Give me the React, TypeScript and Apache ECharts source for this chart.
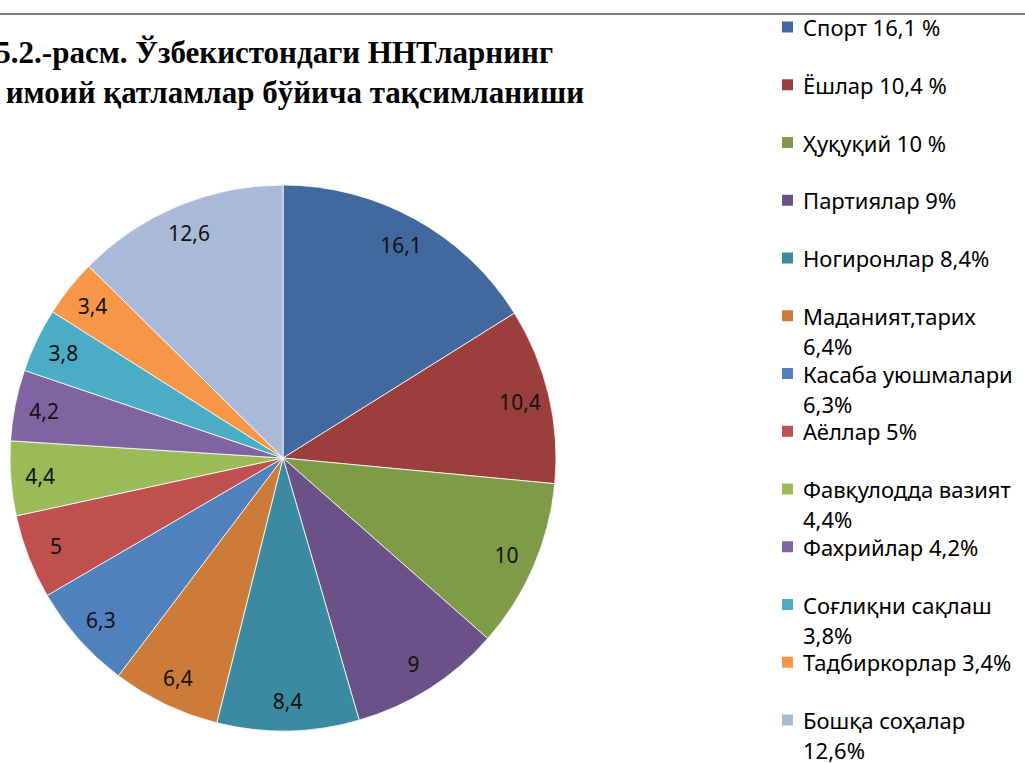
import React, { useEffect, useRef } from "react";
import * as echarts from "echarts";

const categories = [
  "Спорт", "Ёшлар", "Ҳуқуқий", "Партиялар", "Ногиронлар", "Маданият,тарих",
  "Касаба уюшмалари", "Аёллар", "Фавқулодда вазият", "Фахрийлар",
  "Соғлиқни сақлаш", "Тадбиркорлар", "Бошқа соҳалар",
];
const values = [16.1, 10.4, 10, 9, 8.4, 6.4, 6.3, 5, 4.4, 4.2, 3.8, 3.4, 12.6];
const legendLines: string[][] = [
  ["Спорт 16,1 %"], ["Ёшлар 10,4 %"], ["Ҳуқуқий 10 %"], ["Партиялар 9%"],
  ["Ногиронлар 8,4%"], ["Маданият,тарих", "6,4%"], ["Касаба уюшмалари", "6,3%"],
  ["Аёллар 5%"], ["Фавқулодда вазият", "4,4%"], ["Фахрийлар 4,2%"],
  ["Соғлиқни сақлаш", "3,8%"], ["Тадбиркорлар 3,4%"], ["Бошқа соҳалар", "12,6%"],
];
const colors = [
  "#41699E", "#9C3F3C", "#7F9B48", "#6A5288", "#3B8AA1", "#CD7B38",
  "#4F81BD", "#C0504D", "#9BBB59", "#8064A2", "#4BACC6", "#F79646", "#A9B9D8",
];
const titleLines = [
  "5.2.-расм. Ўзбекистондаги ННТларнинг",
  "имоий қатламлар бўйича тақсимланиши",
];

export default function App() {
  const ref = useRef<HTMLDivElement>(null);
  useEffect(() => {
    if (!ref.current) return;
    const chart = echarts.init(ref.current, null, { renderer: "svg" });
    const font = "Noto Sans";
    const cx = 283, cy = 458, R = 273;
    const data = categories.map((n, i) => ({ name: n, value: values[i], itemStyle: { color: colors[i] } }));
    const lineH = 30;
    const legends = categories.map((n, i) => {
      const lines = legendLines[i];
      const two = lines.length > 1;
      const center = 27 + i * 57.75;
      const text = two ? " \n" + lines[0] + "\n" + lines[1] : lines[0];
      return {
        left: 780,
        top: center - (two ? lineH * 1.5 : lineH / 2),
        padding: 0,
        itemWidth: 13,
        itemHeight: 13,
        icon: "rect",
        selectedMode: false,
        data: [{ name: n }],
        formatter: () => text,
        textStyle: { fontFamily: font, fontSize: 22, color: "#000", lineHeight: lineH, padding: [0, 0, 0, 4] },
      };
    });
    chart.setOption({
      animation: false,
      color: colors,
      legend: legends,
      graphic: [
        { type: "line", shape: { x1: 0, y1: 14, x2: 1025, y2: 14 }, style: { stroke: "#808080", lineWidth: 2 } },
        { type: "text", style: { text: titleLines[0], x: 553, y: 52, textAlign: "right", textVerticalAlign: "middle", font: "bold 31px 'Liberation Serif', serif", fill: "#000" } },
        { type: "text", style: { text: titleLines[1], x: 584, y: 92, textAlign: "right", textVerticalAlign: "middle", font: "bold 31px 'Liberation Serif', serif", fill: "#000" } },
      ],
      series: [
        {
          type: "pie",
          center: [cx, cy],
          radius: [0, R],
          startAngle: 90,
          clockwise: true,
          data,
          label: { show: false },
          labelLine: { show: false },
          itemStyle: { borderColor: "#ffffff", borderWidth: 0.8 },
          emphasis: { disabled: true },
          silent: true,
        },
        {
          type: "pie",
          center: [cx, cy],
          radius: [208, R],
          startAngle: 90,
          clockwise: true,
          data: categories.map((n, i) => ({ name: n, value: values[i] })),
          itemStyle: { color: "rgba(0,0,0,0)" },
          label: {
            show: true,
            position: "inside",
            fontFamily: font,
            fontSize: 21,
            color: "#111",
            formatter: (p: any) => String(p.value).replace(".", ","),
          },
          labelLine: { show: false },
          emphasis: { disabled: true },
          silent: true,
        },
      ],
    });
    return () => chart.dispose();
  }, []);
  return <div ref={ref} style={{ position: "fixed", left: 0, top: 0, width: 1025, height: 763, background: "#fff" }} />;
}
